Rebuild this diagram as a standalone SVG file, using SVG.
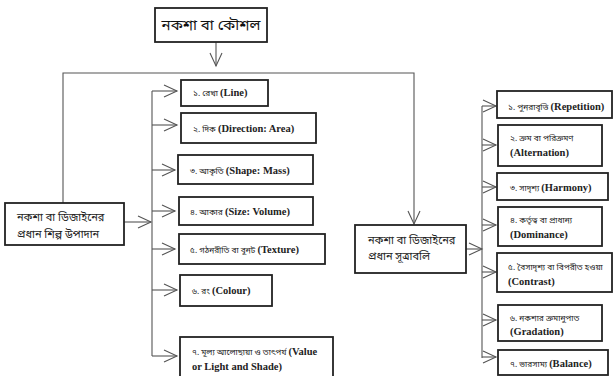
<svg xmlns="http://www.w3.org/2000/svg" width="613" height="376" viewBox="0 0 613 376">
<defs>
<marker id="ah" markerUnits="userSpaceOnUse" markerWidth="16" markerHeight="16" viewBox="0 0 16 16" refX="14" refY="8" orient="auto">
<path d="M1,2 L14,8 L1,14" fill="none" stroke="#555" stroke-width="1.1"/>
</marker>
<style>
.box{fill:#fff;stroke:#222;stroke-width:1.8}
.con{fill:none;stroke:#555;stroke-width:1.1}
.t{font-family:"Noto Sans Bengali","Noto Serif Bengali","Liberation Serif",serif;font-size:8.3px;fill:#222}
.b{font-family:"Liberation Serif",serif;font-weight:bold;font-size:10.5px}
.m{font-family:"Noto Sans Bengali","Noto Serif Bengali","Noto Sans",sans-serif;font-size:11px;fill:#222}
.h{font-family:"Noto Sans Bengali","Noto Serif Bengali","Noto Sans",sans-serif;font-size:15px;fill:#111}
</style>
</defs>
<g id="connectors">
<path class="con" d="M216,42 V66" marker-end="url(#ah)"/>
<path class="con" d="M63,203 V73 H414 V224" marker-end="url(#ah)"/>
<path class="con" d="M124,222 H151" marker-end="url(#ah)"/>
<path class="con" d="M152,91 V356"/>
<path class="con" d="M152,91 H177" marker-end="url(#ah)"/>
<path class="con" d="M152,125 H177" marker-end="url(#ah)"/>
<path class="con" d="M152,170 H175" marker-end="url(#ah)"/>
<path class="con" d="M152,211 H175" marker-end="url(#ah)"/>
<path class="con" d="M152,249 H175" marker-end="url(#ah)"/>
<path class="con" d="M152,290 H177" marker-end="url(#ah)"/>
<path class="con" d="M152,356 H177" marker-end="url(#ah)"/>
<path class="con" d="M466,249 H482" marker-end="url(#ah)"/>
<path class="con" d="M482,106 V358"/>
<path class="con" d="M482,106 H496" marker-end="url(#ah)"/>
<path class="con" d="M482,145 H496" marker-end="url(#ah)"/>
<path class="con" d="M482,187 H496" marker-end="url(#ah)"/>
<path class="con" d="M482,225 H496" marker-end="url(#ah)"/>
<path class="con" d="M482,272 H496" marker-end="url(#ah)"/>
<path class="con" d="M482,320 H496" marker-end="url(#ah)"/>
<path class="con" d="M482,357 H496" marker-end="url(#ah)"/>
</g>
<g id="title">
<rect class="box" x="155" y="8" width="112" height="34"/>
<text class="h" x="211" y="30" text-anchor="middle">নকশা বা কৌশল</text>
</g>
<g id="left-main">
<rect class="box" x="5" y="203" width="119" height="42"/>
<text class="m" x="17" y="221">নকশা বা ডিজাইনের</text>
<text class="m" x="17" y="238">প্রধান শিল্প উপাদান</text>
</g>
<g id="right-main">
<rect class="box" x="355" y="225" width="111" height="48"/>
<text class="m" x="368" y="244">নকশা বা ডিজাইনের</text>
<text class="m" x="368" y="260">প্রধান সূত্রাবলি</text>
</g>
<g id="l1"><rect class="box" x="181" y="80" width="87" height="26"/><text class="t" x="193" y="96">১. রেখা <tspan class="b">(Line)</tspan></text></g>
<g id="l2"><rect class="box" x="181" y="113" width="135" height="30"/><text class="t" x="193" y="132">২. দিক <tspan class="b">(Direction: Area)</tspan></text></g>
<g id="l3"><rect class="box" x="178" y="155" width="135" height="29"/><text class="t" x="190" y="174">৩. আকৃতি <tspan class="b">(Shape: Mass)</tspan></text></g>
<g id="l4"><rect class="box" x="179" y="197" width="134" height="28"/><text class="t" x="190" y="215">৪. আকার <tspan class="b">(Size: Volume)</tspan></text></g>
<g id="l5"><rect class="box" x="179" y="234" width="146" height="30"/><text class="t" x="190" y="253">৫. গঠনরীতি বা বুনট <tspan class="b">(Texture)</tspan></text></g>
<g id="l6"><rect class="box" x="180" y="275" width="92" height="31"/><text class="t" x="192" y="294">৬. রং <tspan class="b">(Colour)</tspan></text></g>
<g id="l7"><rect class="box" x="180" y="337" width="153" height="45"/><text class="t" x="192" y="355">৭. মূল্য আলোছায়া ও তাৎপর্য <tspan class="b">(Value</tspan></text><text class="t b" x="192" y="370">or Light and Shade)</text></g>
<g id="r1"><rect class="box" x="497" y="91" width="115" height="27"/><text class="t" x="508" y="110">১. পুনরাবৃত্তি <tspan class="b">(Repetition)</tspan></text></g>
<g id="r2"><rect class="box" x="498" y="125" width="104" height="41"/><text class="t" x="510" y="141">২. ক্রম বা পরিক্রমণ</text><text class="t b" x="510" y="156">(Alternation)</text></g>
<g id="r3"><rect class="box" x="497" y="173" width="111" height="27"/><text class="t" x="510" y="191">৩. সাদৃশ্য <tspan class="b">(Harmony)</tspan></text></g>
<g id="r4"><rect class="box" x="498" y="207" width="104" height="39"/><text class="t" x="510" y="223">৪. কর্তৃত্ব বা প্রাধান্য</text><text class="t b" x="510" y="238">(Dominance)</text></g>
<g id="r5"><rect class="box" x="497" y="253" width="115" height="39"/><text class="t" x="508" y="270">৫. বৈসাদৃশ্য বা বিপরীত হওয়া</text><text class="t b" x="508" y="285">(Contrast)</text></g>
<g id="r6"><rect class="box" x="498" y="305" width="104" height="36"/><text class="t" x="510" y="321">৬. নকশার ক্রমানুপাত</text><text class="t b" x="510" y="335">(Gradation)</text></g>
<g id="r7"><rect class="box" x="498" y="350" width="110" height="25"/><text class="t" x="510" y="367">৭. ভারসাম্য <tspan class="b">(Balance)</tspan></text></g>
</svg>
